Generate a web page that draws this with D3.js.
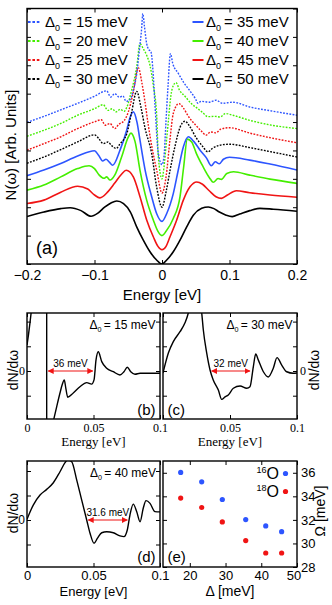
<!DOCTYPE html>
<html><head><meta charset="utf-8">
<script src="https://cdn.jsdelivr.net/npm/d3@7"></script>
<style>body{margin:0;background:#fff}svg{display:block}</style>
</head><body>
<svg id="c" width="332" height="605"></svg>
<script>
// ---------------- DATA ----------------
// Panel (a): N(omega) curves, [energy eV, value arb.]
const d15 = [[-0.2,4.99],[-0.175,5.2],[-0.15,5.43],[-0.125,5.66],[-0.1,5.91],[-0.082,6.1],[-0.076,5.88],[-0.07,6.0],[-0.063,5.87],[-0.058,5.92],[-0.053,5.73],[-0.047,5.8],[-0.0425,6.12],[-0.0375,6.7],[-0.0336,7.52],[-0.03,8.34],[-0.0285,8.82],[-0.026,8.37],[-0.0227,7.76],[-0.0203,7.58],[-0.0163,7.47],[-0.0138,6.94],[-0.0104,5.6],[-0.0055,3.9],[0,3.5],[0.003,3.8],[0.006,5.06],[0.009,6.3],[0.0125,7.41],[0.016,7.06],[0.024,6.72],[0.032,6.4],[0.042,6.08],[0.05,5.8],[0.053,5.66],[0.058,5.73],[0.07,5.7],[0.08,5.77],[0.09,5.66],[0.105,5.7],[0.13,5.53],[0.16,5.4],[0.2,5.24]];
const d20 = [[-0.2,4.5],[-0.175,4.71],[-0.15,4.95],[-0.125,5.24],[-0.1,5.47],[-0.087,5.61],[-0.08,5.41],[-0.074,5.47],[-0.068,5.36],[-0.062,5.45],[-0.056,5.38],[-0.052,5.53],[-0.045,6.12],[-0.0375,6.94],[-0.0326,7.76],[-0.0277,7.58],[-0.0227,7.35],[-0.0178,7.0],[-0.0129,6.29],[-0.0079,5.24],[-0.0055,3.8],[0,3.0],[0.003,3.42],[0.0065,4.3],[0.0093,5.0],[0.013,5.9],[0.017,6.3],[0.0207,6.39],[0.026,6.12],[0.034,5.91],[0.043,5.66],[0.052,5.49],[0.06,5.34],[0.068,5.19],[0.078,5.2],[0.086,5.18],[0.094,5.3],[0.105,5.24],[0.13,5.06],[0.16,4.9],[0.2,4.77]];
const d25 = [[-0.2,4.01],[-0.175,4.24],[-0.15,4.48],[-0.125,4.77],[-0.1,5.01],[-0.09,5.08],[-0.084,4.89],[-0.077,4.95],[-0.07,4.77],[-0.064,4.92],[-0.056,5.05],[-0.05,5.35],[-0.043,6.0],[-0.035,6.91],[-0.03,6.41],[-0.0252,5.71],[-0.0203,4.89],[-0.014,4.0],[-0.0079,3.31],[0,2.5],[0.006,3.07],[0.0119,4.4],[0.0167,5.3],[0.025,5.65],[0.032,5.48],[0.04,5.17],[0.05,4.89],[0.06,4.64],[0.065,4.54],[0.072,4.65],[0.08,4.62],[0.087,4.75],[0.1,4.8],[0.13,4.61],[0.16,4.45],[0.2,4.27]];
const d30 = [[-0.2,3.55],[-0.175,3.77],[-0.15,4.03],[-0.125,4.3],[-0.1,4.55],[-0.094,4.43],[-0.087,4.24],[-0.08,4.3],[-0.075,4.18],[-0.068,4.07],[-0.062,4.24],[-0.052,4.6],[-0.045,5.35],[-0.0375,6.08],[-0.031,5.5],[-0.025,4.77],[-0.0153,3.89],[-0.008,2.72],[0,2.0],[0.006,2.54],[0.012,3.31],[0.019,4.12],[0.027,4.83],[0.034,5.03],[0.041,4.85],[0.05,4.47],[0.06,4.15],[0.068,3.95],[0.075,4.08],[0.085,4.18],[0.1,4.22],[0.13,4.1],[0.16,3.96],[0.2,3.77]];
const d35 = [[-0.2,3.11],[-0.175,3.31],[-0.15,3.54],[-0.125,3.8],[-0.1,3.99],[-0.094,3.83],[-0.088,3.63],[-0.083,3.69],[-0.078,3.59],[-0.073,3.48],[-0.0622,4.01],[-0.0523,4.71],[-0.0475,5.15],[-0.0425,5.36],[-0.037,4.99],[-0.0326,4.36],[-0.025,3.31],[-0.0153,2.37],[-0.008,1.78],[0,1.5],[0.007,1.78],[0.0167,2.48],[0.0241,3.31],[0.0316,4.12],[0.039,4.48],[0.047,4.32],[0.057,3.99],[0.066,3.73],[0.073,3.46],[0.079,3.6],[0.085,3.53],[0.091,3.69],[0.1,3.76],[0.13,3.66],[0.16,3.52],[0.2,3.31]];
const d40 = [[-0.2,2.6],[-0.175,2.78],[-0.15,3.07],[-0.125,3.36],[-0.108,3.46],[-0.1,3.36],[-0.093,3.13],[-0.086,3.02],[-0.082,3.07],[-0.077,2.96],[-0.07,3.13],[-0.06,3.76],[-0.05,4.47],[-0.046,4.61],[-0.04,4.32],[-0.0326,3.3],[-0.0227,2.25],[-0.0129,1.55],[-0.006,1.15],[0,1.0],[0.006,1.15],[0.0167,1.6],[0.0267,2.37],[0.032,3.4],[0.0375,4.4],[0.044,4.3],[0.051,3.89],[0.061,3.42],[0.07,3.05],[0.076,2.88],[0.083,3.01],[0.088,2.98],[0.096,3.19],[0.106,3.25],[0.13,3.13],[0.16,2.99],[0.2,2.84]];
const d45 = [[-0.2,2.13],[-0.175,2.25],[-0.15,2.53],[-0.125,2.74],[-0.11,2.64],[-0.1,2.43],[-0.092,2.33],[-0.08,2.55],[-0.07,2.85],[-0.06,3.16],[-0.053,3.3],[-0.0425,3.07],[-0.0326,2.37],[-0.0227,1.55],[-0.0129,0.96],[-0.006,0.62],[0,0.5],[0.006,0.62],[0.0119,0.96],[0.0218,1.55],[0.0316,2.25],[0.0415,2.72],[0.0514,2.89],[0.06,2.81],[0.07,2.58],[0.08,2.37],[0.088,2.31],[0.097,2.43],[0.11,2.58],[0.13,2.51],[0.16,2.43],[0.2,2.35]];
const d50 = [[-0.2,1.67],[-0.175,1.83],[-0.15,1.95],[-0.136,1.98],[-0.12,1.88],[-0.105,1.68],[-0.095,1.79],[-0.085,2.0],[-0.075,2.16],[-0.067,2.22],[-0.057,2.13],[-0.047,1.84],[-0.0375,1.31],[-0.0277,0.84],[-0.0178,0.43],[-0.008,0.14],[0,0],[0.007,0.14],[0.0167,0.43],[0.0267,0.84],[0.0366,1.31],[0.0464,1.72],[0.0588,1.96],[0.0686,2.01],[0.077,1.95],[0.085,1.83],[0.095,1.72],[0.104,1.67],[0.115,1.76],[0.13,1.88],[0.145,1.96],[0.165,1.93],[0.2,1.86]];
const gapLabels = ['15','20','25','30','35','40','45','50'];
const aTickVals = [-0.2,-0.1,0,0.1,0.2];
const aTickLabels = ['\u22120.2','\u22120.1','0','0.1','0.2'];
const aYTicks = [0,1,2,3,4,5,6,7,8,9];

// Panels (b)-(d): dN/domega, [energy eV, value arb.]
const bLeft = [[0,1.05],[0.0011,1.46],[0.0023,1.98],[0.0035,2.55],[0.0045,3.1]];
const bPole = [[0.0148,2.6],[0.0148,-2.1]];
const bRight = [[0.0195,-2.1],[0.0223,-1.45],[0.0248,-0.89],[0.0265,-0.55],[0.028,-0.36],[0.0292,-0.7],[0.0306,-1.06],[0.0348,-0.89],[0.0398,-0.64],[0.0449,-0.47],[0.0486,-0.53],[0.0504,-0.36],[0.0519,0.45],[0.0536,0.78],[0.0562,0.38],[0.0599,0.11],[0.0649,-0.03],[0.0699,-0.16],[0.0729,-0.03],[0.0754,0.15],[0.078,-0.03],[0.0812,-0.13],[0.085,-0.09],[0.095,-0.09],[0.1,-0.09]];
const cCurve = [[0,-0.08],[0.004,0.73],[0.0077,1.19],[0.0127,1.59],[0.0164,1.95],[0.0189,2.35],[0.021,2.9],[0.024,3.4],[0.0276,2.9],[0.0289,2.35],[0.0301,1.66],[0.0326,0.73],[0.0351,0.04],[0.0375,-0.36],[0.0413,-0.77],[0.0438,-1.15],[0.0463,-1.05],[0.0487,-0.97],[0.0525,-0.7],[0.0575,-0.61],[0.0625,-0.7],[0.0649,-0.64],[0.0674,0.17],[0.0692,0.69],[0.0711,0.45],[0.0749,-0.03],[0.0786,-0.24],[0.0823,0.11],[0.0851,0.54],[0.0886,0.24],[0.0923,-0.03],[0.0972,-0.09],[0.1,-0.08]];
const dCurve = [[0,0.03],[0.0047,0.61],[0.0098,1.02],[0.0148,1.25],[0.0198,1.52],[0.0248,1.97],[0.0286,2.34],[0.0305,2.45],[0.0336,2.38],[0.0374,1.63],[0.0411,0.82],[0.0449,0],[0.0474,-0.54],[0.0504,-0.95],[0.0529,-0.75],[0.0562,-0.52],[0.0599,-0.48],[0.0649,-0.52],[0.0699,-0.65],[0.0729,-0.68],[0.0754,-0.41],[0.0774,0.2],[0.0799,0.65],[0.0825,0.34],[0.085,-0.07],[0.0874,0.48],[0.0895,0.79],[0.0925,0.68],[0.0962,0.34],[0.1,0.33]];
const bcdYTicks = [-1,0,1,2];
// annotation arrows [from eV, to eV, label]
const arrowB = [0.016, 0.0494, '36 meV'];
const arrowC = [0.0363, 0.0649, '32 meV'];
const arrowD = [0.0461, 0.0754, '31.6 meV'];

// Panel (e): phonon energy vs gap
const gapE = [17.45, 23.33, 29.1, 35.65, 41.25, 45.7];
const omega16 = [36.03, 35.23, 33.73, 32.03, 31.49, 31.0];
const omega18 = [33.85, 33.05, 31.83, 30.24, 29.19, 29.19];
const eXTicks = [20,30,40,50];
const eYTicks = [28,30,32,34,36];

// ---------------- DRAWING ----------------
const SANS = "'Liberation Sans', Arial, Helvetica, sans-serif";
const SERIF = "'Liberation Serif', 'Times New Roman', serif";
const BLUE = '#2d55ff', GREEN = '#44ee00', RED = '#f01414', BLACK = '#000';
const svg = d3.select('#c');
const defs = svg.append('defs');
defs.append('marker').attr('id','ah').attr('viewBox','0 0 10 10').attr('refX',9).attr('refY',5)
  .attr('markerWidth',5).attr('markerHeight',5).attr('orient','auto-start-reverse')
  .append('path').attr('d','M0,0L10,5L0,10z').attr('fill',RED);

function clip(id, x, y){
  const [L,R] = x.range(), [B,T] = y.range();
  defs.append('clipPath').attr('id',id).append('rect')
    .attr('x',L).attr('y',T).attr('width',R-L).attr('height',B-T);
  return 'url(#'+id+')';
}
function frame(x, y){
  const [L,R] = x.range(), [B,T] = y.range();
  svg.append('rect').attr('x',L).attr('y',T).attr('width',R-L).attr('height',B-T)
    .attr('fill','none').attr('stroke','#000').attr('stroke-width',1.4);
}
function ticksOnly(g){ g.select('.domain').remove(); g.selectAll('.tick line').attr('stroke','#000').attr('stroke-width',1); }

function axes(x, y, o){
  const [L,R] = x.range(), [B,T] = y.range();
  const xb = svg.append('g').attr('transform',`translate(0,${B})`)
    .call(d3.axisBottom(x).tickValues(o.xTicks).tickSize(-4).tickSizeOuter(0).tickPadding(o.xPad)
      .tickFormat((d,i)=> o.xLabels ? o.xLabels[i] : ''));
  ticksOnly(xb);
  xb.selectAll('text').attr('font-family',o.xFont).attr('font-size',o.xSize).attr('fill','#000');
  if(o.lastDx) xb.selectAll('text').filter((d,i,n)=> i===n.length-1).attr('dx',o.lastDx);
  const xt = svg.append('g').attr('transform',`translate(0,${T})`)
    .call(d3.axisTop(x).tickValues(o.xTicks).tickSize(-4).tickSizeOuter(0).tickFormat(''));
  ticksOnly(xt);
  const yl = svg.append('g').attr('transform',`translate(${L},0)`)
    .call(d3.axisLeft(y).tickValues(o.yTicks).tickSize(-4).tickSizeOuter(0).tickPadding(o.yPad||2)
      .tickFormat(d => (o.yLabelSide==='left' && o.yLabels && o.yLabels.includes(d)) ? String(d) : ''));
  ticksOnly(yl);
  yl.selectAll('text').attr('font-family',o.yFont).attr('font-size',o.ySize).attr('fill','#000');
  const yr = svg.append('g').attr('transform',`translate(${R},0)`)
    .call(d3.axisRight(y).tickValues(o.yTicks).tickSize(-4).tickSizeOuter(0).tickPadding(o.yPad||2)
      .tickFormat(d => (o.yLabelSide==='right' && o.yLabels && o.yLabels.includes(d)) ? String(d) : ''));
  ticksOnly(yr);
  yr.selectAll('text').attr('font-family',o.yFont).attr('font-size',o.ySize).attr('fill','#000');
}

function text(x, y, s, o={}){
  const t = svg.append('text').attr('x',x).attr('y',y).text(s)
    .attr('font-family',o.font||SANS).attr('font-size',o.size||13).attr('fill',o.fill||'#000')
    .attr('text-anchor',o.anchor||'start');
  if(o.rot){ t.attr('x',null).attr('y',null).attr('transform',`translate(${x},${y}) rotate(${o.rot})`).attr('dy','0.35em'); }
  return t;
}
function deltaLabel(x, y, val, size, anchor){
  const t = svg.append('text').attr('x',x).attr('y',y).attr('font-family',SANS)
    .attr('font-size',size).attr('text-anchor',anchor).attr('fill','#000');
  t.append('tspan').text('\u0394');
  t.append('tspan').attr('font-size',size*0.6).attr('dy',size*0.28).text('0');
  t.append('tspan').attr('dy',-size*0.28).text('\u2009= ' + val + ' meV');
  return t;
}

// ---- Panel (a)
const xA = d3.scaleLinear([-0.2,0.2],[27,297]);
const yA = d3.scaleLinear([0,9],[264,8.5]);
const clipA = clip('cA', xA, yA);
const lineA = d3.line().x(d=>xA(d[0])).y(d=>yA(d[1])).curve(d3.curveMonotoneX);
const seriesA = [
  {pts:d15, c:BLUE, dot:true},{pts:d20, c:GREEN, dot:true},{pts:d25, c:RED, dot:true},{pts:d30, c:BLACK, dot:true},
  {pts:d35, c:BLUE, dot:false},{pts:d40, c:GREEN, dot:false},{pts:d45, c:RED, dot:false},{pts:d50, c:BLACK, dot:false}
];
const gA = svg.append('g').attr('clip-path',clipA);
seriesA.slice().reverse().forEach(s=>{
  gA.append('path').attr('d',lineA(s.pts)).attr('fill','none').attr('stroke',s.c)
    .attr('stroke-width',s.dot?1.4:1.6).attr('stroke-dasharray',s.dot?'1.8,1.4':null);
});
axes(xA, yA, {xTicks:aTickVals, xLabels:aTickLabels, xPad:6, xFont:SANS, xSize:14, yTicks:aYTicks});
frame(xA, yA);
text(162, 300, 'Energy [eV]', {size:15, anchor:'middle'});
text(11, 145, 'N(\u03c9) [Arb. Units]', {size:15, anchor:'middle', rot:-90});
text(36, 254, '(a)', {size:18});
// legend
const legRows = [27, 46, 65, 84];
seriesA.forEach((s,i)=>{
  const col = i<4 ? 0 : 1, r = i%4;
  const x0 = col===0 ? 28 : 192.5, x1 = col===0 ? 40 : 203.5;
  svg.append('line').attr('x1',x0).attr('x2',x1).attr('y1',legRows[r]-5).attr('y2',legRows[r]-5)
    .attr('stroke',s.c).attr('stroke-width',s.dot?1.8:2).attr('stroke-dasharray',s.dot?'2.6,1.8':null);
  deltaLabel(col===0?45:206, legRows[r], gapLabels[i], 15, 'start');
});

// ---- helpers for b, c, d
function dPanel(id, L, R, T, B, zeroY, pxPerUnit){
  const x = d3.scaleLinear([0,0.1],[L,R]);
  const y = d3.scaleLinear([(zeroY-B)/pxPerUnit, (zeroY-T)/pxPerUnit],[B,T]);
  return {x, y, clip: clip(id, x, y)};
}
function drawCurve(P, pts, linear){
  const ln = d3.line().x(d=>P.x(d[0])).y(d=>P.y(d[1])).curve(linear?d3.curveLinear:d3.curveMonotoneX);
  svg.append('path').attr('clip-path',P.clip).attr('d',ln(pts)).attr('fill','none')
    .attr('stroke','#000').attr('stroke-width',1.4);
}
function drawArrow(P, a){
  const yy = P.y(0);
  svg.append('line').attr('x1',P.x(a[0])).attr('x2',P.x(a[1])).attr('y1',yy).attr('y2',yy)
    .attr('stroke',RED).attr('stroke-width',1.2).attr('marker-start','url(#ah)').attr('marker-end','url(#ah)');
  text((P.x(a[0])+P.x(a[1]))/2, yy-4, a[2], {size:10, anchor:'middle'});
}

// ---- Panel (b)
const PB = dPanel('cB', 27, 160, 313, 419, 371, 24.7);
drawCurve(PB, bLeft); drawCurve(PB, bPole, true); drawCurve(PB, bRight);
axes(PB.x, PB.y, {xTicks:[0,0.05,0.1], xLabels:['0','0.05','0.1'], xPad:4, xFont:SERIF, xSize:12,
  yTicks:bcdYTicks, yLabelSide:'left', yLabels:[0], yFont:SERIF, ySize:12, yPad:2});
frame(PB.x, PB.y);
drawArrow(PB, arrowB);
deltaLabel(155.5, 329, '15', 12, 'end');
text(155.5, 415, '(b)', {size:15, anchor:'end'});
text(93.5, 446, 'Energy [eV]', {font:SERIF, size:13, anchor:'middle'});
text(13, 370, 'dN/d\u03c9', {size:14, anchor:'middle', rot:-90});

// ---- Panel (c)
const PC = dPanel('cC', 163, 297, 313, 419, 371, 24.7);
drawCurve(PC, cCurve);
axes(PC.x, PC.y, {xTicks:[0,0.05,0.1], xLabels:['','0.05','0.1'], xPad:4, xFont:SERIF, xSize:12,
  yTicks:bcdYTicks, yLabelSide:'right', yLabels:[0], yFont:SERIF, ySize:12, yPad:3});
frame(PC.x, PC.y);
drawArrow(PC, arrowC);
deltaLabel(292.5, 329, '30', 12, 'end');
text(167.5, 415, '(c)', {size:15});
text(230, 446, 'Energy [eV]', {font:SERIF, size:13, anchor:'middle'});
text(314, 370, 'dN/d\u03c9', {size:14, anchor:'middle', rot:-90});

// ---- Panel (d)
const PD = dPanel('cD', 27, 160, 461, 567, 520, 24.5);
drawCurve(PD, dCurve);
axes(PD.x, PD.y, {xTicks:[0,0.05,0.1], xLabels:['0','0.05','0.1'], xPad:4, xFont:SANS, xSize:13,
  yTicks:bcdYTicks, yLabelSide:'left', yLabels:[0], yFont:SANS, ySize:12, yPad:2});
frame(PD.x, PD.y);
drawArrow(PD, arrowD);
deltaLabel(156, 477, '40', 12, 'end');
text(155.5, 562, '(d)', {size:15, anchor:'end'});
text(93.5, 596, 'Energy [eV]', {size:13, anchor:'middle'});
text(13, 513, 'dN/d\u03c9', {size:14, anchor:'middle', rot:-90});

// ---- Panel (e)
const xE = d3.scaleLinear([12.5,50],[163,297]);
const yE = d3.scaleLinear([28,37],[567,461]);
axes(xE, yE, {xTicks:eXTicks, xLabels:['20','30','40','50'], xPad:4, xFont:SANS, xSize:13, lastDx:-3.5,
  yTicks:eYTicks, yLabelSide:'right', yLabels:eYTicks, yFont:SANS, ySize:13, yPad:4});
frame(xE, yE);
svg.append('g').selectAll('circle.o16').data(gapE).join('circle')
  .attr('cx',d=>xE(d)).attr('cy',(d,i)=>yE(omega16[i])).attr('r',2.6).attr('fill',BLUE);
svg.append('g').selectAll('circle.o18').data(gapE).join('circle')
  .attr('cx',d=>xE(d)).attr('cy',(d,i)=>yE(omega18[i])).attr('r',2.6).attr('fill',RED);
function isoLabel(y, mass, color){
  const t = svg.append('text').attr('x',279).attr('y',y).attr('font-family',SANS).attr('text-anchor','end').attr('fill','#000');
  t.append('tspan').attr('font-size',9).attr('dy',-6).text(mass);
  t.append('tspan').attr('font-size',16).attr('dy',6).text('O');
  svg.append('circle').attr('cx',285.5).attr('cy',y-5.5).attr('r',2.6).attr('fill',color);
}
isoLabel(479, '16', BLUE);
isoLabel(497, '18', RED);
text(167.5, 562, '(e)', {size:15});
text(230, 596, '\u0394 [meV]', {size:14, anchor:'middle'});
text(320, 511, '\u03a9 [meV]', {size:14, anchor:'middle', rot:-90});
</script>
</body></html>
